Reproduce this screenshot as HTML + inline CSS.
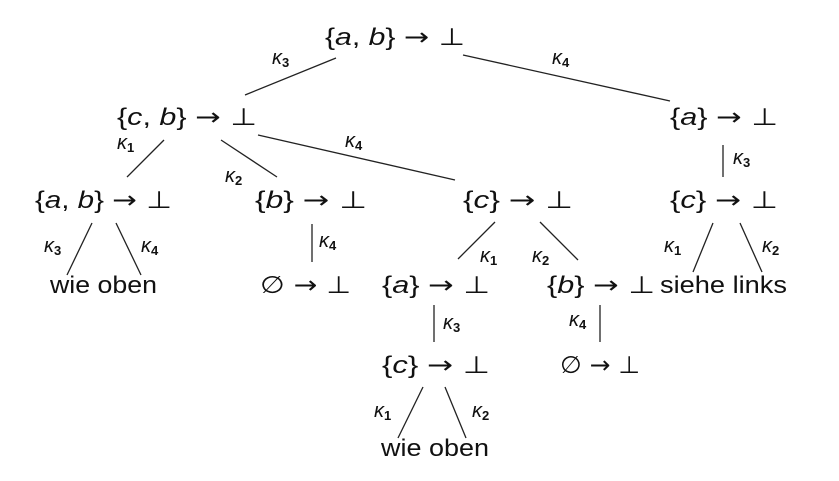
<!DOCTYPE html>
<html><head><meta charset="utf-8"><style>
html,body{margin:0;padding:0;background:#fff;width:839px;height:481px;overflow:hidden}
svg{display:block}
.n{font-family:"Liberation Sans","DejaVu Sans",sans-serif;font-size:24px;fill:#111}
.a{font-family:"DejaVu Sans",sans-serif;font-size:24px}
.l{font-family:"Liberation Sans","DejaVu Sans",sans-serif;font-size:20px;font-style:italic;fill:#111}
.s{font-style:normal;font-weight:bold;font-size:13px}
line{stroke:#222;stroke-width:1.3}
</style></head><body>
<svg width="839" height="481" viewBox="0 0 839 481" xmlns="http://www.w3.org/2000/svg">
<g>
<line x1="336" y1="58" x2="245" y2="95"/>
<line x1="463" y1="55" x2="670" y2="101"/>
<line x1="164" y1="140" x2="127" y2="177"/>
<line x1="221" y1="140" x2="277" y2="177"/>
<line x1="258" y1="135" x2="455" y2="180"/>
<line x1="92" y1="223" x2="67" y2="275"/>
<line x1="116" y1="223" x2="141" y2="275"/>
<line x1="312" y1="224" x2="312" y2="262"/>
<line x1="723" y1="145" x2="723" y2="177"/>
<line x1="495" y1="222" x2="458" y2="259"/>
<line x1="540" y1="222" x2="578" y2="260"/>
<line x1="713" y1="223" x2="693" y2="272"/>
<line x1="740" y1="223" x2="762" y2="272"/>
<line x1="434" y1="305" x2="434" y2="342"/>
<line x1="600" y1="305" x2="600" y2="342"/>
<line x1="423" y1="387" x2="398" y2="438"/>
<line x1="445" y1="387" x2="466" y2="438"/>
</g>
<g class="n">
<text x="325" y="45" textLength="140" lengthAdjust="spacingAndGlyphs">{<tspan font-style="italic">a</tspan>, <tspan font-style="italic">b</tspan>} <tspan class="a">→ ⊥</tspan></text>
<text x="117" y="125" textLength="140" lengthAdjust="spacingAndGlyphs">{<tspan font-style="italic">c</tspan>, <tspan font-style="italic">b</tspan>} <tspan class="a">→ ⊥</tspan></text>
<text x="670" y="125" textLength="108" lengthAdjust="spacingAndGlyphs">{<tspan font-style="italic">a</tspan>} <tspan class="a">→ ⊥</tspan></text>
<text x="35" y="208" textLength="137" lengthAdjust="spacingAndGlyphs">{<tspan font-style="italic">a</tspan>, <tspan font-style="italic">b</tspan>} <tspan class="a">→ ⊥</tspan></text>
<text x="255" y="208" textLength="112" lengthAdjust="spacingAndGlyphs">{<tspan font-style="italic">b</tspan>} <tspan class="a">→ ⊥</tspan></text>
<text x="463" y="208" textLength="110" lengthAdjust="spacingAndGlyphs">{<tspan font-style="italic">c</tspan>} <tspan class="a">→ ⊥</tspan></text>
<text x="670" y="208" textLength="108" lengthAdjust="spacingAndGlyphs">{<tspan font-style="italic">c</tspan>} <tspan class="a">→ ⊥</tspan></text>
<text x="50" y="293" textLength="107" lengthAdjust="spacingAndGlyphs">wie oben</text>
<text x="260" y="293" textLength="91" lengthAdjust="spacingAndGlyphs"><tspan class="a">∅ → ⊥</tspan></text>
<text x="382" y="293" textLength="108" lengthAdjust="spacingAndGlyphs">{<tspan font-style="italic">a</tspan>} <tspan class="a">→ ⊥</tspan></text>
<text x="547" y="293" textLength="108" lengthAdjust="spacingAndGlyphs">{<tspan font-style="italic">b</tspan>} <tspan class="a">→ ⊥</tspan></text>
<text x="660" y="293" textLength="127" lengthAdjust="spacingAndGlyphs">siehe links</text>
<text x="382" y="373" textLength="108" lengthAdjust="spacingAndGlyphs">{<tspan font-style="italic">c</tspan>} <tspan class="a">→ ⊥</tspan></text>
<text x="560" y="373" textLength="80" lengthAdjust="spacingAndGlyphs"><tspan class="a">∅ → ⊥</tspan></text>
<text x="381" y="456" textLength="108" lengthAdjust="spacingAndGlyphs">wie oben</text>
</g>
<g class="l">
<text x="272" y="64">κ<tspan class="s" dy="3">3</tspan></text>
<text x="552" y="64">κ<tspan class="s" dy="3">4</tspan></text>
<text x="117" y="149">κ<tspan class="s" dy="3">1</tspan></text>
<text x="225" y="182">κ<tspan class="s" dy="3">2</tspan></text>
<text x="345" y="147">κ<tspan class="s" dy="3">4</tspan></text>
<text x="44" y="252">κ<tspan class="s" dy="3">3</tspan></text>
<text x="141" y="252">κ<tspan class="s" dy="3">4</tspan></text>
<text x="319" y="247">κ<tspan class="s" dy="3">4</tspan></text>
<text x="733" y="164">κ<tspan class="s" dy="3">3</tspan></text>
<text x="480" y="262">κ<tspan class="s" dy="3">1</tspan></text>
<text x="532" y="262">κ<tspan class="s" dy="3">2</tspan></text>
<text x="664" y="252">κ<tspan class="s" dy="3">1</tspan></text>
<text x="762" y="252">κ<tspan class="s" dy="3">2</tspan></text>
<text x="443" y="329">κ<tspan class="s" dy="3">3</tspan></text>
<text x="569" y="326">κ<tspan class="s" dy="3">4</tspan></text>
<text x="374" y="417">κ<tspan class="s" dy="3">1</tspan></text>
<text x="472" y="417">κ<tspan class="s" dy="3">2</tspan></text>
</g>
</svg>
</body></html>
